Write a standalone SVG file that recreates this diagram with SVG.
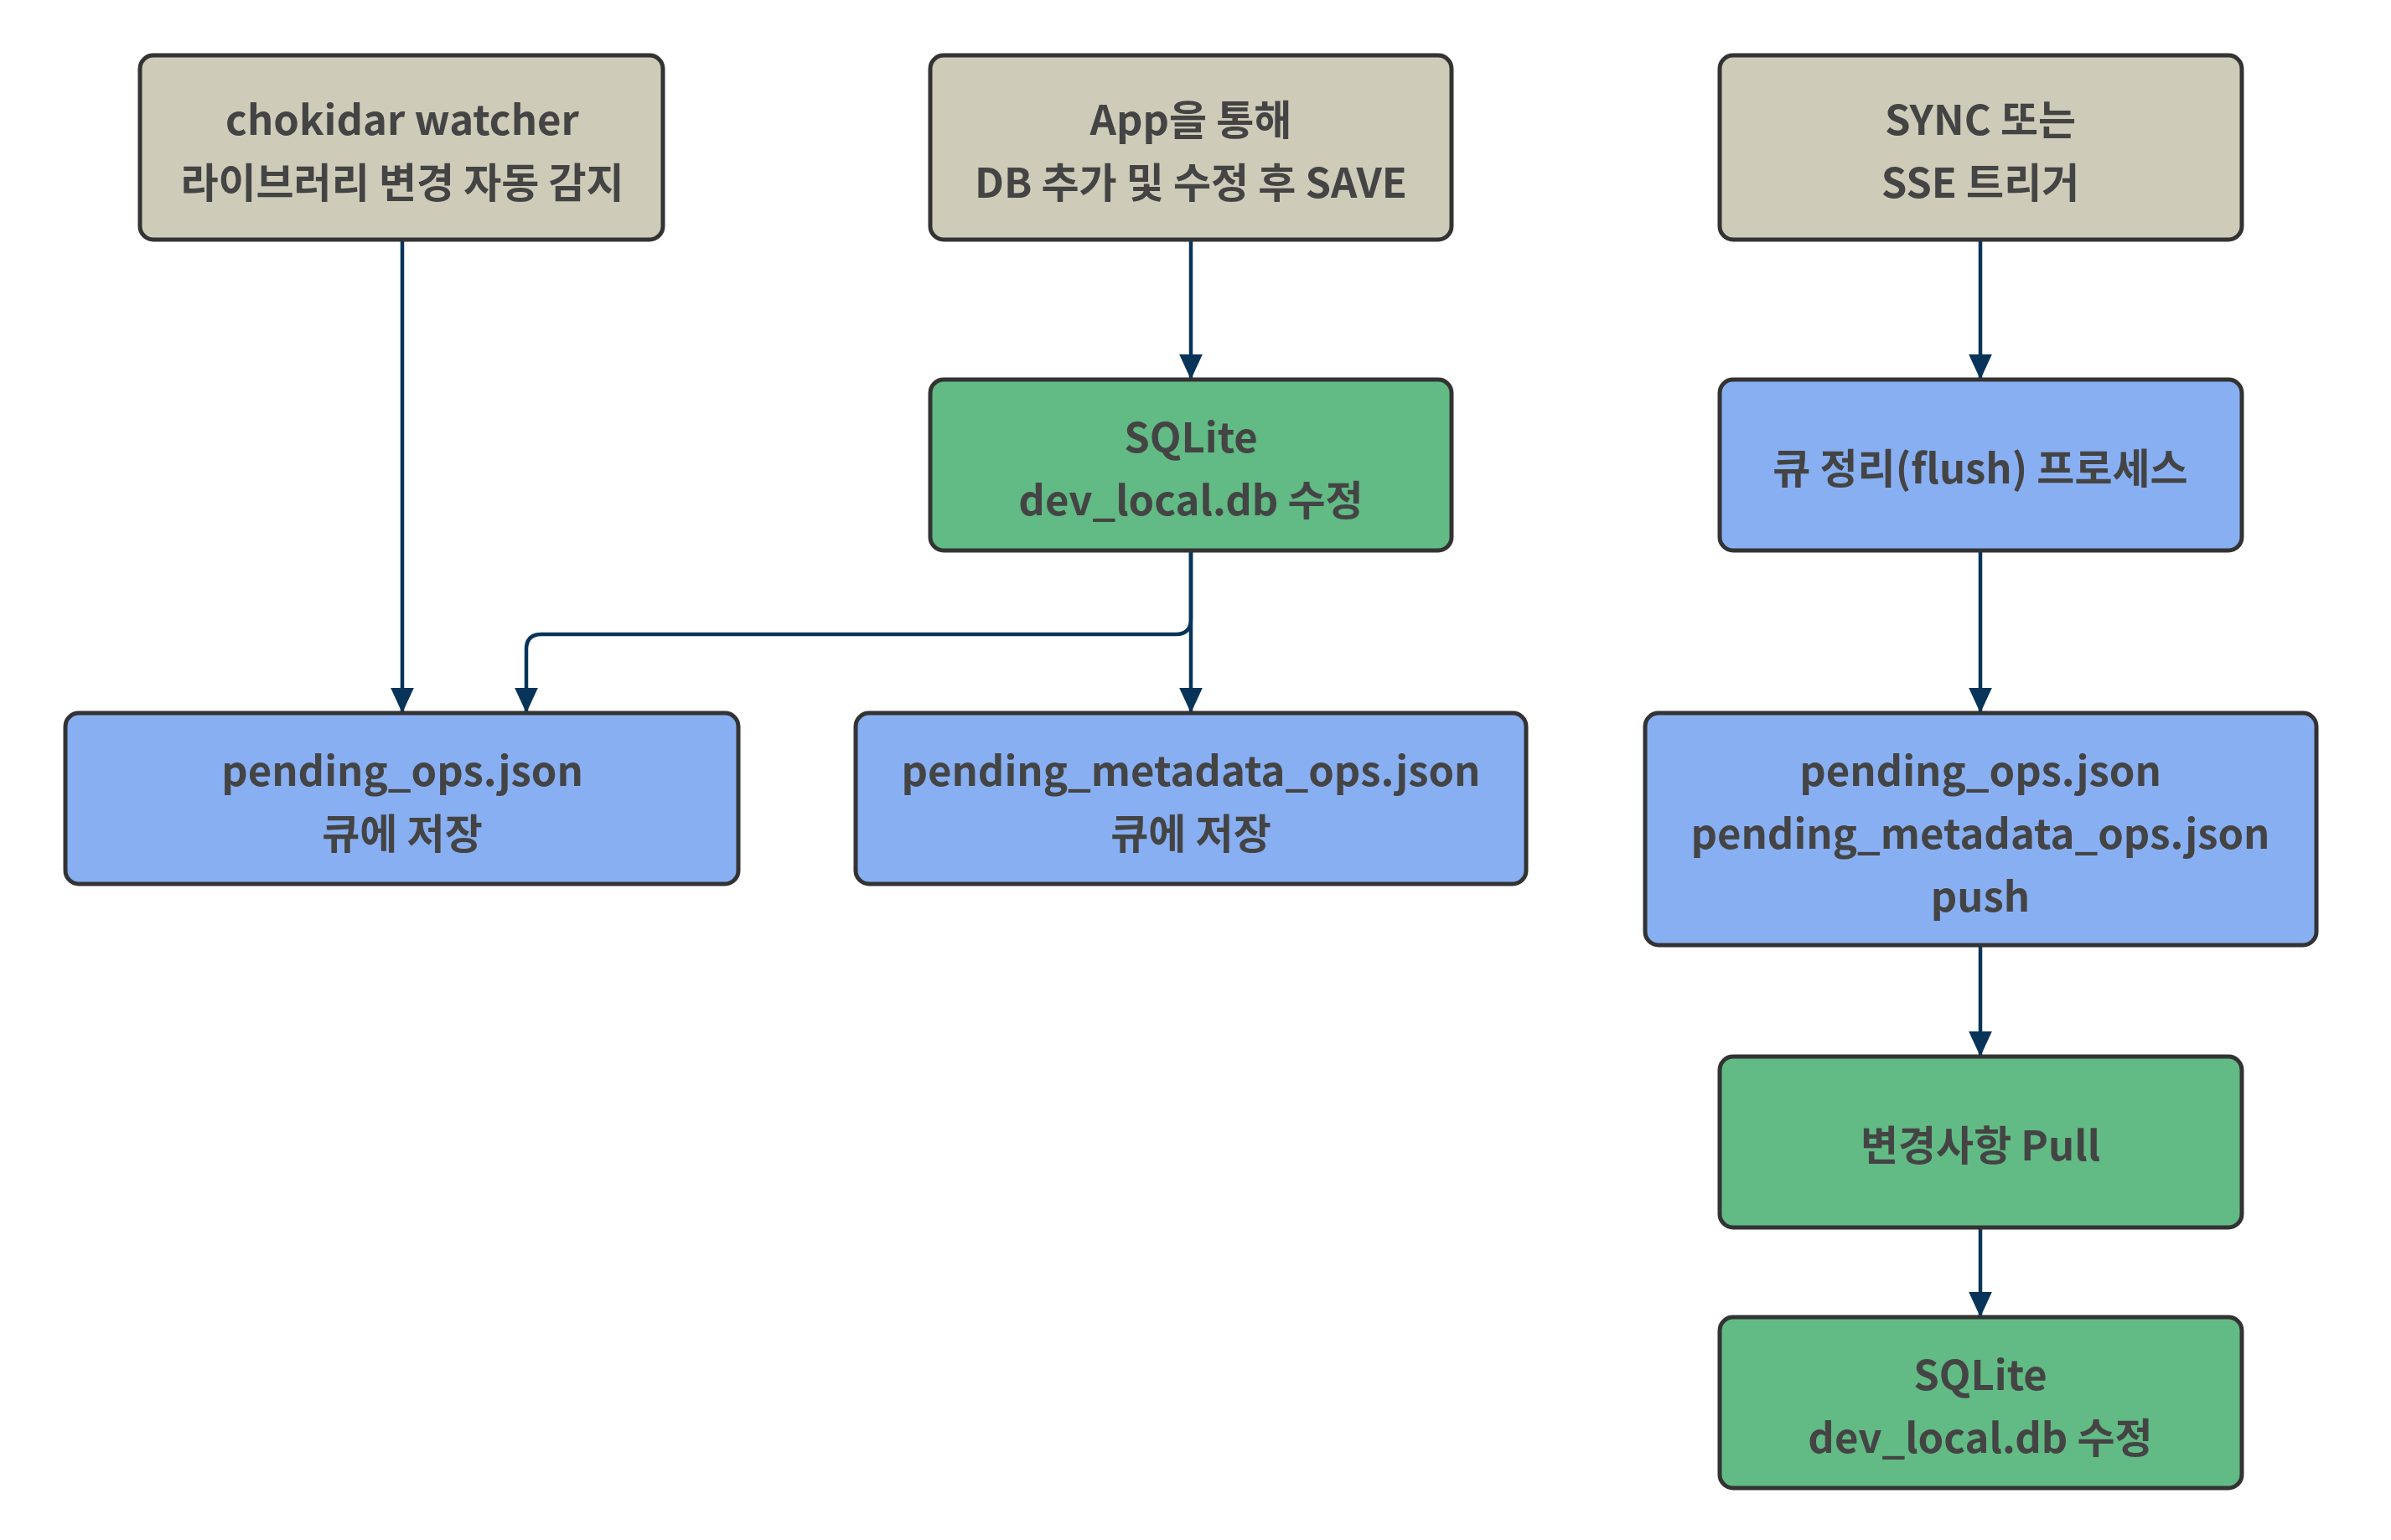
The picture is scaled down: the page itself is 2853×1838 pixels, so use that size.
<svg xmlns="http://www.w3.org/2000/svg" width="2853" height="1838" viewBox="0 0 2853 1838">
<style>
.box{stroke:#333333;stroke-width:5}
.beige{fill:#CECBB9}
.green{fill:#62BA85}
.blue{fill:#88AFF2}
.t{font-family:"Noto Sans CJK KR","Noto Sans",sans-serif;font-weight:700;font-size:49px;fill:#444444;text-anchor:middle;dominant-baseline:central}
.e{fill:none;stroke:#08345A;stroke-width:4.5}
</style>
<defs>
<marker id="ah" markerUnits="userSpaceOnUse" markerWidth="30" markerHeight="30" refX="26" refY="12" orient="auto" viewBox="0 0 26 24">
<path d="M0,0 L26,12 L0,24 Z" fill="#08345A"/>
</marker>
</defs>
<rect width="2853" height="1838" fill="#ffffff"/>
<g id="connectors">
<path class="e" d="M480,286 L480,851" marker-end="url(#ah)"/>
<path class="e" d="M1421,286 L1421,453" marker-end="url(#ah)"/>
<path class="e" d="M1421,657 L1421,851" marker-end="url(#ah)"/>
<path class="e" d="M1421,657 L1421,739 Q1421,757 1403,757 L646,757 Q628,757 628,775 L628,851" marker-end="url(#ah)"/>
<path class="e" d="M2363,286 L2363,453" marker-end="url(#ah)"/>
<path class="e" d="M2363,657 L2363,851" marker-end="url(#ah)"/>
<path class="e" d="M2363,1128 L2363,1261" marker-end="url(#ah)"/>
<path class="e" d="M2363,1465 L2363,1572" marker-end="url(#ah)"/>
</g>
<g id="chokidar">
<rect class="box beige" x="167" y="66" width="624" height="220" rx="16"/>
<text class="t" x="480" y="139">chokidar watcher</text>
<text class="t" x="480" y="214">라이브러리 변경 자동 감지</text>
</g>
<g id="app">
<rect class="box beige" x="1110" y="66" width="622" height="220" rx="16"/>
<text class="t" x="1421" y="139">App을 통해</text>
<text class="t" x="1421" y="214">DB 추가 및 수정 후 SAVE</text>
</g>
<g id="sync">
<rect class="box beige" x="2052" y="66" width="623" height="220" rx="16"/>
<text class="t" x="2363" y="139">SYNC 또는</text>
<text class="t" x="2363" y="214">SSE 트리거</text>
</g>
<g id="sqlite1">
<rect class="box green" x="1110" y="453" width="622" height="204" rx="16"/>
<text class="t" x="1421" y="518">SQLite</text>
<text class="t" x="1421" y="593">dev_local.db 수정</text>
</g>
<g id="flush">
<rect class="box blue" x="2052" y="453" width="623" height="204" rx="16"/>
<text class="t" x="2363" y="555">큐 정리(flush) 프로세스</text>
</g>
<g id="pendingOps">
<rect class="box blue" x="78" y="851" width="803" height="204" rx="16"/>
<text class="t" x="480" y="916">pending_ops.json</text>
<text class="t" x="480" y="991">큐에 저장</text>
</g>
<g id="pendingMeta">
<rect class="box blue" x="1021" y="851" width="800" height="204" rx="16"/>
<text class="t" x="1421" y="916">pending_metadata_ops.json</text>
<text class="t" x="1421" y="991">큐에 저장</text>
</g>
<g id="push">
<rect class="box blue" x="1963" y="851" width="801" height="277" rx="16"/>
<text class="t" x="2363" y="916">pending_ops.json</text>
<text class="t" x="2363" y="991">pending_metadata_ops.json</text>
<text class="t" x="2363" y="1066">push</text>
</g>
<g id="pull">
<rect class="box green" x="2052" y="1261" width="623" height="204" rx="16"/>
<text class="t" x="2363" y="1363">변경사항 Pull</text>
</g>
<g id="sqlite2">
<rect class="box green" x="2052" y="1572" width="623" height="204" rx="16"/>
<text class="t" x="2363" y="1637">SQLite</text>
<text class="t" x="2363" y="1712">dev_local.db 수정</text>
</g>
</svg>
